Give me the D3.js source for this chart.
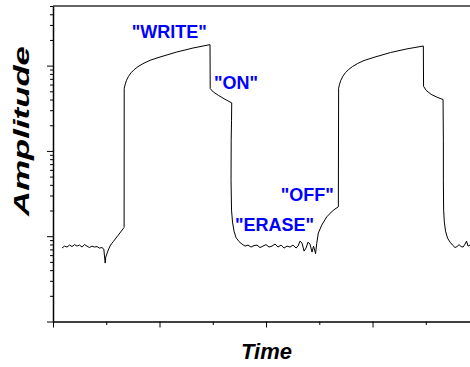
<!DOCTYPE html>
<html lang="en">

<head>
    <meta charset="UTF-8">
    <title>Amplitude vs Time</title>
    <script src="https://d3js.org/d3.v7.min.js"></script>
    <style>
        body {
            margin: 0;
            padding: 0;
            background-color: #fff;
        }

        .label {
            font-family: Arial, "Liberation Sans", sans-serif;
            font-weight: bold;
            font-size: 18px;
            fill: #0000ff;
        }

        .title {
            font-family: Arial, "Liberation Sans", sans-serif;
            font-weight: bold;
            font-style: italic;
            font-size: 22px;
            fill: #000;
        }
    </style>
</head>

<body>
    <div id="chart"></div>
    <script>
        // time (arbitrary units, one unit per minor tick) and amplitude
        var timeValues = [
            0.169, 0.216, 0.263, 0.310, 0.357, 0.404, 0.451, 0.498, 0.545, 0.592,
            0.638, 0.685, 0.732, 0.779, 0.826, 0.873, 0.920, 0.954, 0.980, 0.990,
            1.038, 1.080, 1.132, 1.226, 1.326, 1.335,
            // "WRITE" / "ON"
            1.337, 1.356, 1.380, 1.418, 1.465, 1.521, 1.596, 1.690, 1.822, 2.009,
            2.323, 2.629, 2.948,
            2.952, 3.010, 3.104, 3.230, 3.356,
            // fall to "ERASE"
            3.352, 3.346, 3.343, 3.352, 3.371, 3.399, 3.437, 3.493, 3.549,
            3.606, 3.662, 3.718, 3.775, 3.831, 3.887, 3.944, 4.000, 4.056, 4.113,
            4.169, 4.225, 4.282, 4.338, 4.394, 4.451, 4.507, 4.563, 4.601, 4.638,
            4.676, 4.714, 4.751, 4.789, 4.826, 4.864, 4.892, 4.930,
            // "OFF" then second write
            4.952, 4.982, 5.046, 5.140, 5.264, 5.358,
            5.363, 5.380, 5.405, 5.442, 5.489, 5.546, 5.621, 5.715, 5.840, 6.028,
            6.338, 6.642, 6.954,
            6.958, 7.005, 7.099, 7.211, 7.324,
            7.330, 7.330, 7.335, 7.348, 7.371, 7.408, 7.455, 7.502, 7.549, 7.587,
            7.624, 7.662, 7.700, 7.737, 7.765, 7.793, 7.831
        ];

        var amplitudeValues = [
            0.726, 0.766, 0.746, 0.787, 0.756, 0.797, 0.766, 0.787, 0.746, 0.797,
            0.766, 0.736, 0.766, 0.746, 0.756, 0.726, 0.736, 0.706, 0.484, 0.569,
            0.688, 0.787, 0.865, 1.030, 1.244, 1.26,
            54.2, 60.4, 67.3, 74.9, 82.4, 89.3, 97.3, 105.5, 115.4, 126.1,
            144.3, 160.8, 176.2,
            53.8, 49.1, 44.9, 40.3, 36.5,
            22.9, 13.35, 4.54, 2.021, 1.463, 1.147, 0.963, 0.865, 0.808,
            0.766, 0.787, 0.746, 0.776, 0.787, 0.736, 0.766, 0.797, 0.746, 0.766,
            0.808, 0.746, 0.787, 0.726, 0.766, 0.746, 0.787, 0.726, 0.766, 0.876,
            0.830, 0.669, 0.726, 0.853, 0.808, 0.651, 0.766, 0.625,
            0.823, 1.087, 1.349, 1.687, 2.021, 2.210,
            54.2, 60.4, 67.3, 74.9, 82.4, 89.3, 97.3, 105.5, 114.7, 125.1,
            142.4, 156.9, 169.7,
            57.2, 51.4, 46.1, 42.6, 40.0,
            13.35, 4.54, 2.021, 1.463, 1.147, 0.950, 0.853, 0.787, 0.736, 0.756,
            0.797, 0.756, 0.746, 0.808, 0.876, 0.766, 0.787
        ];

        // annotations
        var labelTexts = ['"WRITE"', '"ON"', '"ERASE"', '"OFF"'];
        var labelTimes = [1.478, 3.023, 3.418, 4.276];
        var labelAmps = [208.8, 52.8, 1.157, 2.576];

        // ticks (no labels on either axis)
        var xMajorTicks = [0, 2, 4, 6];
        var xMinorTicks = [1, 3, 5, 7];
        var yMajorTicks = [0.1, 1, 10, 100];
        var yMinorTicks = [0.2, 0.3, 0.4, 0.5, 0.6, 0.7, 0.8, 0.9,
            2, 3, 4, 5, 6, 7, 8, 9,
            20, 30, 40, 50, 60, 70, 80, 90,
            200, 300, 400, 500];

        var width = 470,
            height = 367;

        var svg = d3.select("#chart")
            .append("svg")
            .attr("width", width)
            .attr("height", height)
            .style("display", "block");

        var x = d3.scaleLinear()
            .domain([0, 7.83])
            .range([53, 470]);

        var y = d3.scaleLog()
            .domain([0.1, 500])
            .range([321.5, 6]);

        // top frame line
        svg.append("line")
            .attr("x1", x(0))
            .attr("x2", x(7.83))
            .attr("y1", y(500))
            .attr("y2", y(500))
            .attr("stroke", "#666")
            .attr("stroke-width", 2);

        // Y axis: minor then major ticks
        svg.append("g")
            .attr("transform", "translate(" + x(0) + ",0)")
            .call(d3.axisLeft(y).tickValues(yMinorTicks).tickSize(3).tickSizeOuter(0).tickFormat(""))
            .call(function (g) { g.select(".domain").remove(); });

        svg.append("g")
            .attr("transform", "translate(" + x(0) + ",0)")
            .call(d3.axisLeft(y).tickValues(yMajorTicks).tickSize(6).tickSizeOuter(0).tickFormat(""))
            .call(function (g) { g.select(".domain").attr("stroke-width", 1.5); });

        // X axis
        svg.append("g")
            .attr("transform", "translate(0," + y(0.1) + ")")
            .call(d3.axisBottom(x).tickValues(xMinorTicks).tickSize(3.5).tickSizeOuter(0).tickFormat(""))
            .call(function (g) { g.select(".domain").remove(); });

        svg.append("g")
            .attr("transform", "translate(0," + y(0.1) + ")")
            .call(d3.axisBottom(x).tickValues(xMajorTicks).tickSize(6).tickSizeOuter(0).tickFormat(""))
            .call(function (g) { g.select(".domain").attr("stroke-width", 1.5); });

        // the trace
        var points = timeValues.map(function (t, i) { return [t, amplitudeValues[i]]; });

        svg.append("path")
            .datum(points)
            .attr("fill", "none")
            .attr("stroke", "#000")
            .attr("stroke-width", 1)
            .attr("stroke-linejoin", "round")
            .attr("d", d3.line()
                .x(function (d) { return x(d[0]); })
                .y(function (d) { return y(d[1]); })
            );

        // blue annotations
        svg.selectAll(".label")
            .data(labelTexts)
            .enter()
            .append("text")
            .attr("class", "label")
            .attr("x", function (d, i) { return x(labelTimes[i]); })
            .attr("y", function (d, i) { return y(labelAmps[i]); })
            .text(function (d) { return d; });

        // axis titles
        svg.append("text")
            .attr("class", "title")
            .attr("x", 266.5)
            .attr("y", 359)
            .attr("text-anchor", "middle")
            .text("Time");

        // the y title is drawn stretched along its length, like the original
        svg.append("text")
            .attr("class", "title")
            .attr("transform", "translate(28.5,131) rotate(-90) scale(1.58,1)")
            .attr("text-anchor", "middle")
            .text("Amplitude");
    </script>
</body>

</html>
